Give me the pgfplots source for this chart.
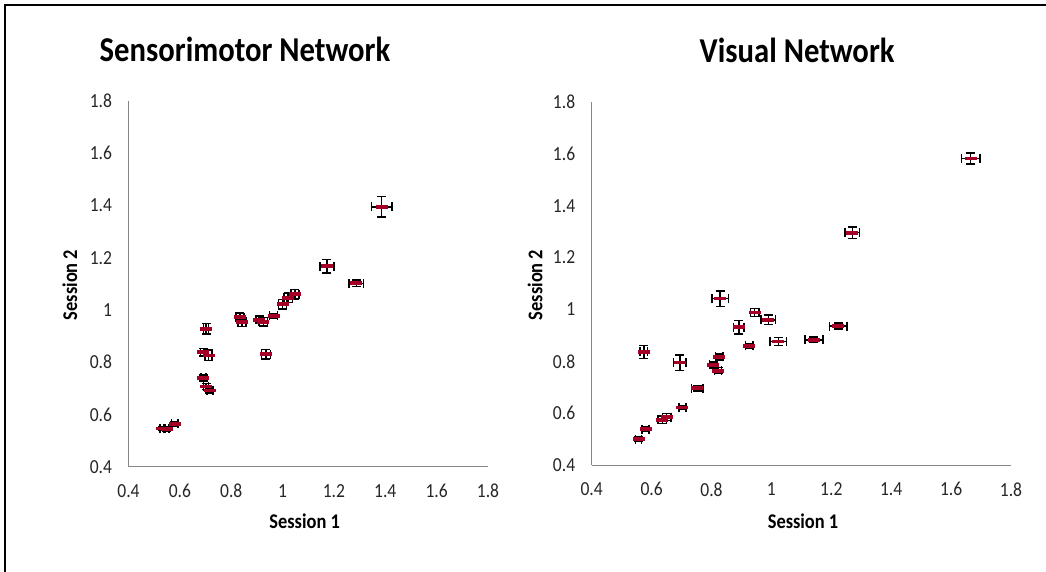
\documentclass[border=0pt]{standalone}
\usepackage{fontspec}
\setmainfont[FakeStretch=0.88]{Carlito}
\usepackage{pgfplots}
\usepackage{pgfplotstable}
\pgfplotsset{compat=1.18}

\definecolor{markred}{RGB}{165,0,38}
\definecolor{axgray}{RGB}{134,134,134}

% x  y  ex  ey
\pgfplotstableread{
x y ex ey
1.386 1.395 0.040 0.040
1.173 1.168 0.028 0.026
1.287 1.102 0.029 0.012
1.048 1.060 0.016 0.018
1.022 1.047 0.016 0.018
1.000 1.022 0.016 0.018
0.965 0.977 0.015 0.010
0.925 0.955 0.016 0.016
0.910 0.962 0.014 0.014
0.834 0.972 0.015 0.016
0.842 0.953 0.015 0.016
0.935 0.830 0.018 0.018
0.702 0.928 0.010 0.020
0.692 0.838 0.012 0.014
0.712 0.826 0.014 0.020
0.692 0.740 0.010 0.012
0.702 0.707 0.010 0.012
0.717 0.692 0.012 0.010
0.532 0.546 0.010 0.008
0.548 0.545 0.010 0.008
0.580 0.564 0.012 0.008
}\sensorimotor

\pgfplotstableread{
x y ex ey
1.665 1.582 0.031 0.021
1.270 1.296 0.024 0.022
0.829 1.042 0.027 0.030
0.944 0.988 0.014 0.016
0.990 0.960 0.024 0.018
0.891 0.931 0.018 0.026
1.223 0.936 0.029 0.012
1.142 0.883 0.030 0.010
1.023 0.876 0.027 0.016
0.926 0.859 0.012 0.010
0.574 0.836 0.012 0.025
0.694 0.795 0.021 0.030
0.826 0.817 0.012 0.012
0.805 0.786 0.012 0.012
0.822 0.764 0.012 0.012
0.753 0.696 0.019 0.010
0.703 0.622 0.012 0.008
0.636 0.575 0.014 0.014
0.650 0.585 0.014 0.014
0.580 0.538 0.012 0.008
0.557 0.500 0.010 0.008
}\visual

\pgfplotsset{
  sessionaxis/.style={
    scale only axis,
    xmin=0.4, xmax=1.8, ymin=0.4, ymax=1.8,
    xtick={0.4,0.6,0.8,1,1.2,1.4,1.6,1.8},
    ytick={0.4,0.6,0.8,1,1.2,1.4,1.6,1.8},
    axis x line=bottom, axis y line=left,
    axis line style={-, draw=axgray, line width=1bp},
    major tick length=0pt,
    tick style={draw=none},
    /pgf/number format/assume math mode=true,
    /pgf/number format/fixed,
    ticklabel style={font=\fontsize{20}{20}\selectfont, text=black!85},
    yticklabel style={xshift=-13bp},
    xticklabel style={yshift=-14bp},
    label style={font=\bfseries\fontsize{21}{21}\selectfont},
    title style={font=\bfseries\fontsize{35}{35}\selectfont, anchor=center},
    clip=false,
  },
  errpts/.style={
    only marks,
    mark=-,
    mark size=6bp,
    mark options={draw=markred, line width=3.8bp, line cap=butt},
    error bars/.cd,
      x dir=both, y dir=both,
      x explicit, y explicit,
      error bar style={black, line width=1.5bp},
      error mark=-,
      error mark options={rotate=90, black, line width=1.5bp, mark size=4.5bp},
  },
}

\begin{document}
\begin{tikzpicture}
\path[use as bounding box] (0,0) rectangle (1046bp,572bp);
\draw[black, line width=2bp] (5bp,0) -- (5bp,567bp) -- (1046bp,567bp);

\begin{axis}[
  sessionaxis,
  at={(128.5bp,105.3bp)}, anchor=south west,
  width=359.5bp, height=365.7bp,
  title={Sensorimotor Network},
  title style={at={(axis description cs:0.324,1.124)}},
  xlabel={Session 1}, ylabel={Session 2},
  xlabel style={at={(axis description cs:0.49,-0.150)}, anchor=center},
  ylabel style={at={(axis description cs:-0.163,0.497)}, anchor=center, rotate=0},
]
\addplot+[errpts] table[x=x, y=y, x error=ex, y error=ey] {\sensorimotor};
\end{axis}

\begin{axis}[
  sessionaxis,
  at={(591.7bp,107bp)}, anchor=south west,
  width=419.3bp, height=363bp,
  title={Visual Network},
  title style={at={(axis description cs:0.49,1.127)}},
  xlabel={Session 1}, ylabel={Session 2},
  xlabel style={at={(axis description cs:0.504,-0.154)}, anchor=center},
  ylabel style={at={(axis description cs:-0.135,0.496)}, anchor=center, rotate=0},
]
\addplot+[errpts] table[x=x, y=y, x error=ex, y error=ey] {\visual};
\end{axis}
\end{tikzpicture}
\end{document}
